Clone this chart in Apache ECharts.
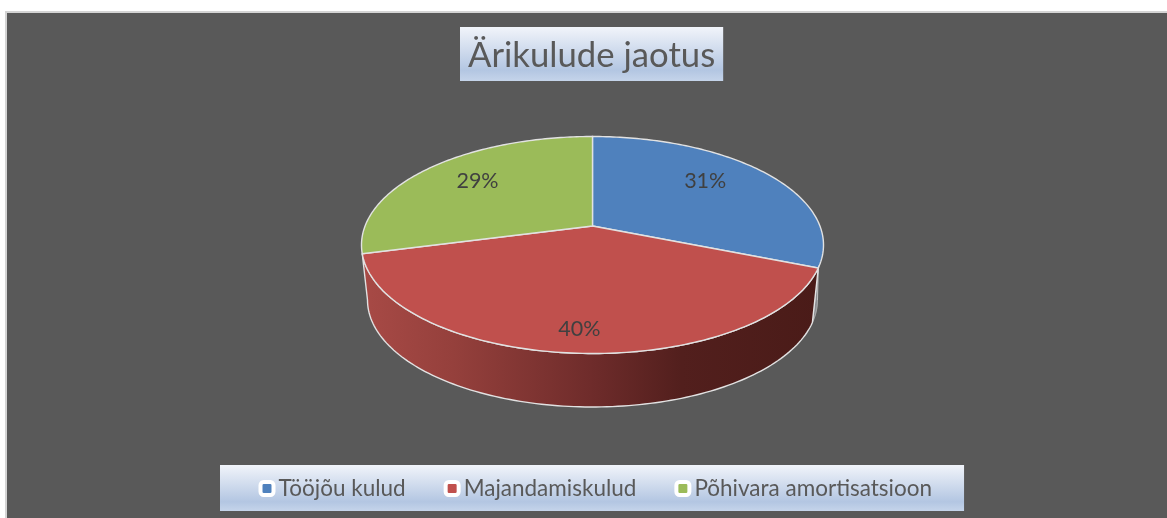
<!DOCTYPE html>
<html><head><meta charset="utf-8">
<style>
html,body{margin:0;padding:0;background:#fff;overflow:hidden}
#frame{position:absolute;left:5px;top:11px;width:1170px;height:515px;background:#595959;border:2px solid #d4d4d4;box-sizing:border-box}
#chart{position:absolute;left:0;top:0;width:1167px;height:518px}
</style>
<script src="https://cdn.jsdelivr.net/npm/echarts@6/dist/echarts.min.js"></script>
</head><body>
<div id="frame"></div>
<div id="chart"></div>
<script>
const titleText = 'Ärikulude jaotus';
const categories = ['Tööjõu kulud', 'Majandamiskulud', 'Põhivara amortisatsioon'];
const values = [31, 40, 29];
const colors = ['#4f81bd', '#c0504d', '#9bbb59'];

const FONT = 'Lato, sans-serif';
const top_ = {cx: 592.5, cy: 245, rx: 231, ry: 108.5};
const bottom_ = {cx: 592.5, cy: 300, rx: 225, ry: 107};
const hub = {x: 592.5, y: 226};
const labelFrac = [[0.59, 0.74], [0.9, 0.95], [0.63, 0.68]];
const total = values.reduce((a, b) => a + b, 0);
const TAU = Math.PI * 2;

function rimParam(theta) {
  const dx = Math.sin(theta) * top_.rx, dy = -Math.cos(theta) * top_.ry;
  const ox = (hub.x - top_.cx) / top_.rx, oy = (hub.y - top_.cy) / top_.ry;
  const ux = dx / top_.rx, uy = dy / top_.ry;
  const a = ux * ux + uy * uy, b = 2 * (ox * ux + oy * uy), c = ox * ox + oy * oy - 1;
  const t = (-b + Math.sqrt(b * b - 4 * a * c)) / (2 * a);
  const px = ox + t * ux, py = oy + t * uy;
  let phi = Math.atan2(px, -py);
  if (phi < -1e-6) phi += TAU;
  return Math.max(phi, 0);
}
const pt = (e, phi) => [e.cx + e.rx * Math.sin(phi), e.cy - e.ry * Math.cos(phi)];
function arc(e, a, b) {
  const n = 120, out = [];
  for (let i = 0; i <= n; i++) out.push(pt(e, a + (b - a) * i / n));
  return out;
}

const wallFill = {type: 'linear', x: 0, y: 0, x2: 1, y2: 0, colorStops: [
  {offset: 0, color: '#a84a46'}, {offset: 0.2, color: '#95403c'},
  {offset: 0.5, color: '#6f2c2b'}, {offset: 0.7, color: '#521f1d'}, {offset: 1, color: '#4a1b18'}]};
const EDGE = '#e2e2e2';

function makeRender(index) {
  return function (params, api) {
    const v = api.value(0);
    let before = 0;
    for (let i = 0; i < index; i++) before += values[i];
    const t0 = before / total * TAU, t1 = (before + v) / total * TAU;
    const p0 = index === 0 ? 0 : rimParam(t0);
    const p1 = index === values.length - 1 ? TAU : rimParam(t1);
    const children = [];
    const Q = Math.PI / 2;
    if (p0 < Q && p1 > Q) {
      children.push({type: 'polygon', shape: {points: [pt(top_, p1)].concat(arc(bottom_, Q, p1))},
        style: {fill: '#8a8c90', stroke: '#c4c4c4', lineWidth: 1}});
    }
    if (p0 >= Q && p1 > p0 && p1 < 3 * Q + 0.2) {
      const pts = arc(top_, p0, p1).concat(arc(bottom_, 3 * Q, p0));
      children.push({type: 'polygon', shape: {points: pts},
        style: {fill: wallFill, stroke: EDGE, lineWidth: 1.4}});
    }
    children.push({type: 'polygon', shape: {points: [[hub.x, hub.y]].concat(arc(top_, p0, p1))},
      style: {fill: colors[index], stroke: EDGE, lineWidth: 1.4}});
    const mid = (t0 + t1) / 2, f = labelFrac[index];
    children.push({type: 'text', z2: 10, style: {
      text: Math.round(v / total * 100) + '%',
      x: hub.x + Math.sin(mid) * top_.rx * f[0],
      y: hub.y - Math.cos(mid) * top_.ry * f[1],
      align: 'center', verticalAlign: 'middle',
      fill: '#404040', font: '21.5px ' + FONT}});
    return {type: 'group', children};
  };
}

const panel = {type: 'linear', x: 0, y: 0, x2: 0, y2: 1, colorStops: [
  {offset: 0, color: '#f1f4fa'}, {offset: 0.8, color: '#b3c6e2'}, {offset: 1, color: '#c5d4ea'}]};

const chart = echarts.init(document.getElementById('chart'), null, {renderer: 'canvas'});
chart.setOption({
  animation: false,
  backgroundColor: 'transparent',
  title: {
    text: titleText, left: 460, top: 27,
    padding: [11, 8, 7, 8], backgroundColor: panel,
    textStyle: {color: '#595959', fontSize: 34.7, fontWeight: 'normal', fontFamily: FONT, lineHeight: 36}
  },
  legend: {
    left: 220, top: 465,
    padding: [12, 32, 11, 38.5],
    itemWidth: 13, itemHeight: 13, itemGap: 38,
    icon: 'roundRect',
    backgroundColor: panel,
    textStyle: {color: '#595959', fontSize: 22.5, fontFamily: FONT},
    data: categories.map((name, i) => ({
      name,
      itemStyle: {color: colors[i], borderColor: '#fff', borderWidth: 4}
    }))
  },
  series: categories.map((name, i) => ({
    type: 'custom', name, coordinateSystem: 'none', silent: true,
    itemStyle: {color: colors[i]},
    renderItem: makeRender(i),
    data: [[values[i]]]
  }))
});
</script>
</body></html>
